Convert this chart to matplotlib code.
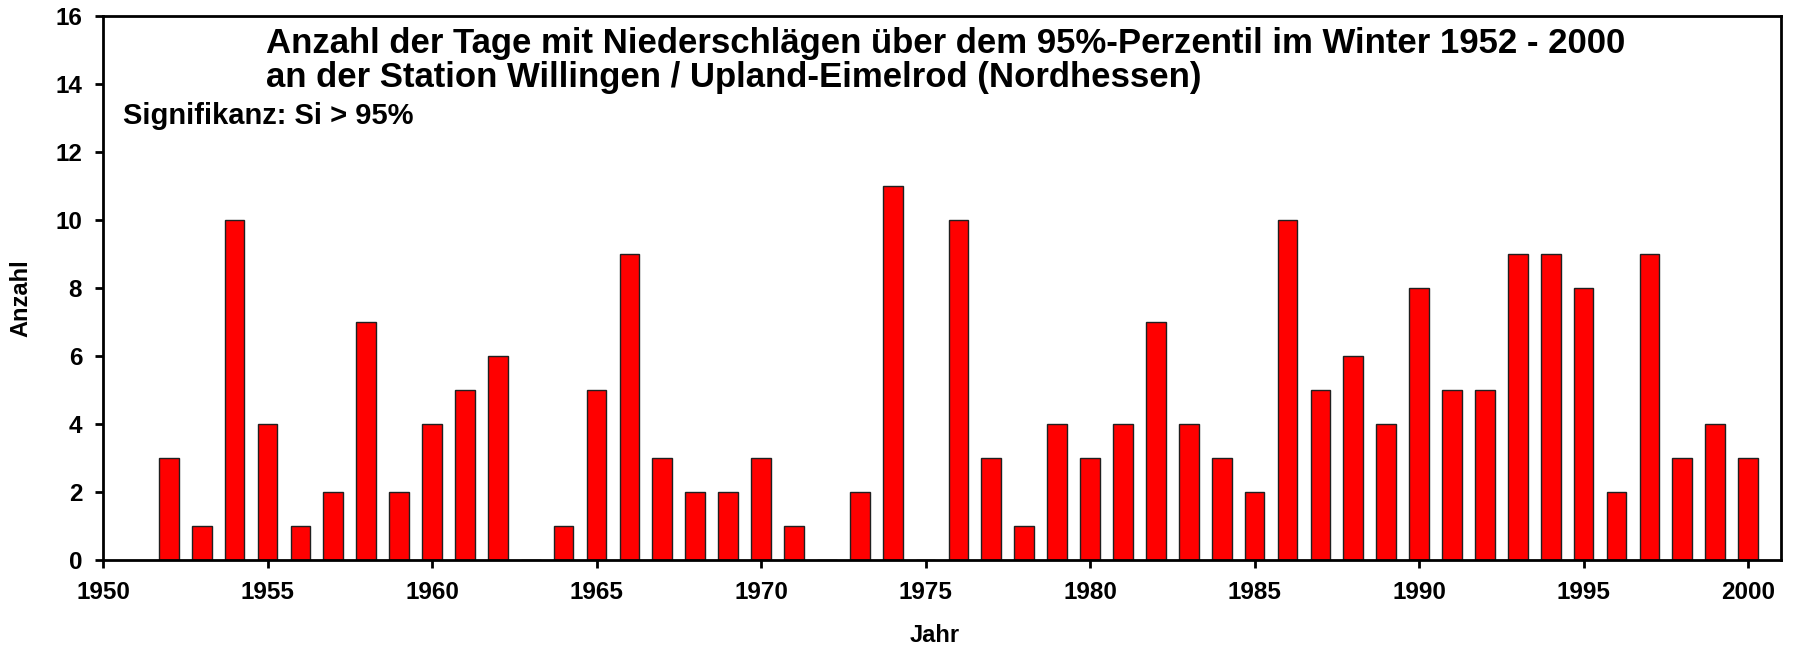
import numpy as np
import matplotlib.pyplot as plt

# Winter days with precipitation above the 95th percentile, Willingen / Upland-Eimelrod
years = np.arange(1952, 2001)
counts = [3, 1, 10, 4, 1, 2, 7, 2, 4, 5, 6, 0, 1, 5, 9, 3, 2, 2, 3, 1,
          0, 2, 11, 0, 10, 3, 1, 4, 3, 4, 7, 4, 3, 2, 10, 5, 6, 4, 8, 5,
          5, 9, 9, 8, 2, 9, 3, 4, 3]

title_lines = [
    "Anzahl der Tage mit Niederschlägen über dem 95%-Perzentil im Winter 1952 - 2000",
    "an der Station Willingen / Upland-Eimelrod (Nordhessen)",
]
note = "Signifikanz: Si > 95%"

plt.rcParams["font.family"] = ["Liberation Sans", "DejaVu Sans"]
plt.rcParams["font.weight"] = "bold"

W, H = 1799, 649
fig = plt.figure(figsize=(W / 100, H / 100), dpi=100)
ax = fig.add_axes([103 / W, 1 - 560 / H, (1781 - 103) / W, (560 - 16) / H])

ax.bar(years, counts, width=0.6, color="#ff0000", edgecolor="#202020", linewidth=1.0)

ax.set_xlim(1950, 2001)
ax.set_ylim(0, 16)
ax.set_xticks(np.arange(1950, 2001, 5))
ax.set_yticks(np.arange(0, 17, 2))
ax.tick_params(direction="out", length=6, width=2, labelsize=17.5)
ax.tick_params(axis="x", pad=9)
ax.tick_params(axis="y", pad=9)
for lbl in ax.get_xticklabels() + ax.get_yticklabels():
    lbl.set_fontweight("bold")
for sp in ax.spines.values():
    sp.set_linewidth(2)

ax.set_xlabel("Jahr", fontsize=17, fontweight="bold")
ax.set_ylabel("Anzahl", fontsize=17, fontweight="bold")
ax.xaxis.set_label_coords((935 - 103) / (1781 - 103), -(636 - 560) / (560 - 16))
ax.yaxis.set_label_coords(-(103 - 21) / (1781 - 103), 1 - (298 - 16) / (560 - 16))
ax.xaxis.label.set_va("center")
ax.yaxis.label.set_va("center")

fig.text(266 / W, 1 - 44 / H, title_lines[0], fontsize=25, fontweight="bold", va="center")
fig.text(266 / W, 1 - 78 / H, title_lines[1], fontsize=25, fontweight="bold", va="center")
fig.text(123 / W, 1 - 116 / H, note, fontsize=21, fontweight="bold", va="center")

fig.savefig("out.png", dpi=100)
